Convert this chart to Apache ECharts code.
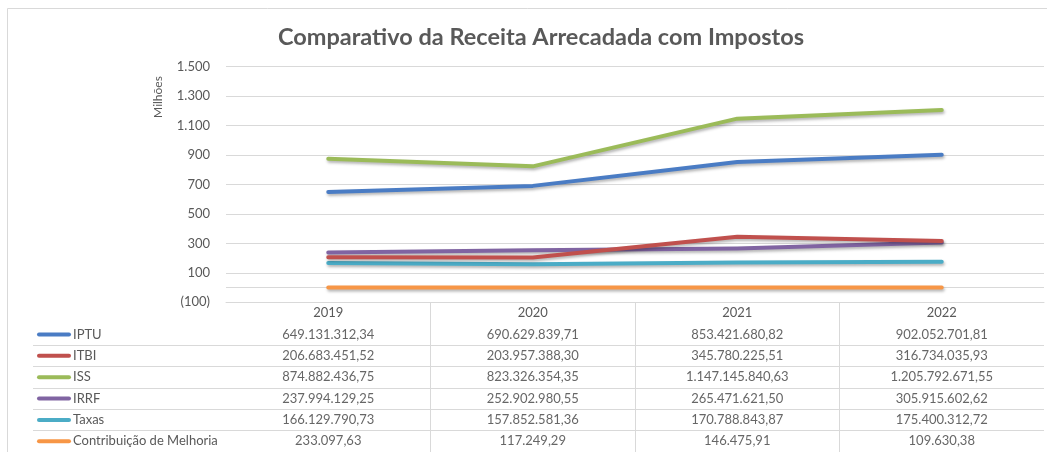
<!DOCTYPE html>
<html><head><meta charset="utf-8">
<script src="https://cdn.jsdelivr.net/npm/echarts@6/dist/echarts.min.js"></script>
<style>html,body{margin:0;padding:0;background:#fff}#c{width:1047px;height:452px}</style>
</head><body><div id="c"></div>
<script>
const years = ['2019', '2020', '2021', '2022'];
const seriesNames = ['IPTU', 'ITBI', 'ISS', 'IRRF', 'Taxas', 'Contribuição de Melhoria'];
const iptu = [649131312.34, 690629839.71, 853421680.82, 902052701.81];
const itbi = [206683451.52, 203957388.30, 345780225.51, 316734035.93];
const iss = [874882436.75, 823326354.35, 1147145840.63, 1205792671.55];
const irrf = [237994129.25, 252902980.55, 265471621.50, 305915602.62];
const taxas = [166129790.73, 157852581.36, 170788843.87, 175400312.72];
const contribuicao = [233097.63, 117249.29, 146475.91, 109630.38];
const yTickLabels = ['(100)', '100', '300', '500', '700', '900', '1.100', '1.300', '1.500'];
const yMin = -100e6, yMax = 1500e6, yStep = 200e6;

const allValues = [iptu, itbi, iss, irrf, taxas, contribuicao];
const colors = ['#4A7CC4', '#C0504D', '#9BBB59', '#8064A2', '#4BACC6', '#F79646'];
const FONT = 'Lato, "Liberation Sans", sans-serif';
const GRAY = '#d9d9d9';

function fmtBR(v) {
  const s = v.toFixed(2);
  const parts = s.split('.');
  return parts[0].replace(/\B(?=(\d{3})+(?!\d))/g, '.') + ',' + parts[1];
}

const chart = echarts.init(document.getElementById('c'), null, { renderer: 'canvas' });

const lineSeries = seriesNames.map((n, k) => ({
  name: n, type: 'line', xAxisIndex: 0, yAxisIndex: 0,
  data: allValues[k], symbol: 'none', smooth: false, silent: true,
  lineStyle: { width: 4, color: colors[k], cap: 'round', join: 'round',
    shadowColor: 'rgba(0,0,0,0.3)', shadowBlur: 3, shadowOffsetX: 1, shadowOffsetY: 2 },
  itemStyle: { color: colors[k] }, z: 10 - k
}));
// horizontal axis line crossing at zero
lineSeries[0].markLine = {
  silent: true, symbol: 'none', label: { show: false }, z: 1,
  lineStyle: { color: GRAY, width: 1, type: 'solid', shadowBlur: 0, shadowOffsetX: 0, shadowOffsetY: 0 },
  emphasis: { disabled: true },
  data: [{ yAxis: 0 }]
};

const tableData = [];
seriesNames.forEach((n, k) => {
  years.forEach((y, i) => tableData.push([y, n, allValues[k][i]]));
});

const rich = { t: { fontSize: 13, color: '#595959', fontFamily: FONT, padding: [0, 0, 0, 2] } };
colors.forEach((c, k) => {
  rich['m' + k] = { width: 34, height: 4, backgroundColor: c, borderRadius: 2 };
});

const tableCats = [''].concat(seriesNames);
const rowLineColors = tableCats.map((c, i) => i >= 2 ? GRAY : 'rgba(0,0,0,0)').concat(['rgba(0,0,0,0)']);

chart.setOption({
  animation: false,
  backgroundColor: '#fff',
  title: {
    text: 'Comparativo da Receita Arrecadada com Impostos',
    left: 536, top: 20, textAlign: 'center',
    textStyle: { fontSize: 23.5, fontWeight: 'bold', color: '#595959', fontFamily: FONT }
  },
  grid: [
    { left: 226, right: 3, top: 66.7, bottom: 149.7 },
    { left: 226, right: 3, top: 302.3, bottom: 0 }
  ],
  xAxis: [
    { gridIndex: 0, type: 'category', data: years, boundaryGap: true, position: 'bottom',
      axisLine: { onZero: false, lineStyle: { color: GRAY, width: 1 } },
      axisTick: { show: false },
      axisLabel: { margin: 4, color: '#595959', fontSize: 13, fontFamily: FONT },
      splitLine: { show: false } },
    { gridIndex: 1, type: 'category', data: years, boundaryGap: true,
      axisLine: { show: false }, axisTick: { show: false }, axisLabel: { show: false },
      splitLine: { show: true, interval: 0,
        lineStyle: { color: ['rgba(0,0,0,0)', GRAY, GRAY, GRAY, 'rgba(0,0,0,0)'], width: 1 } } }
  ],
  yAxis: [
    { gridIndex: 0, type: 'value', min: yMin, max: yMax, interval: yStep,
      axisLine: { show: false }, axisTick: { show: false },
      axisLabel: { margin: 16, color: '#595959', fontSize: 13, fontFamily: FONT,
        formatter: v => yTickLabels[Math.round((v - yMin) / yStep)] || '' },
      splitLine: { show: true, lineStyle: { color: GRAY, width: 1 } } },
    { gridIndex: 1, type: 'category', data: tableCats, inverse: true, boundaryGap: true,
      axisLine: { show: false },
      axisTick: { show: true, length: 193, interval: (i) => i >= 2, lineStyle: { color: GRAY, width: 1 } },
      axisLabel: { interval: 0, align: 'left', margin: 189,
        formatter: (v, i) => {
          const k = seriesNames.indexOf(v);
          return k < 0 ? '' : '{m' + k + '|}{t|' + v + '}';
        }, rich: rich },
      splitLine: { show: true, interval: 0, lineStyle: { color: rowLineColors, width: 1 } } }
  ],
  series: lineSeries.concat([{
    type: 'scatter', xAxisIndex: 1, yAxisIndex: 1, data: tableData,
    symbolSize: 1, itemStyle: { color: 'rgba(0,0,0,0)' }, silent: true,
    label: { show: true, position: 'inside', color: '#404040', fontSize: 13, fontFamily: FONT,
      formatter: p => fmtBR(p.value[2]) }
  }]),
  graphic: [
    { type: 'rect', shape: { x: 7.5, y: 8.5, width: 1100, height: 500 },
      style: { fill: 'none', stroke: GRAY, lineWidth: 1 }, silent: true },
    { type: 'text', x: 158, y: 97, rotation: Math.PI / 2,
      style: { text: 'Milhões', fill: '#595959', fontSize: 12, fontFamily: FONT,
        textAlign: 'center', textVerticalAlign: 'middle' }, silent: true }
  ]
});
</script></body></html>
